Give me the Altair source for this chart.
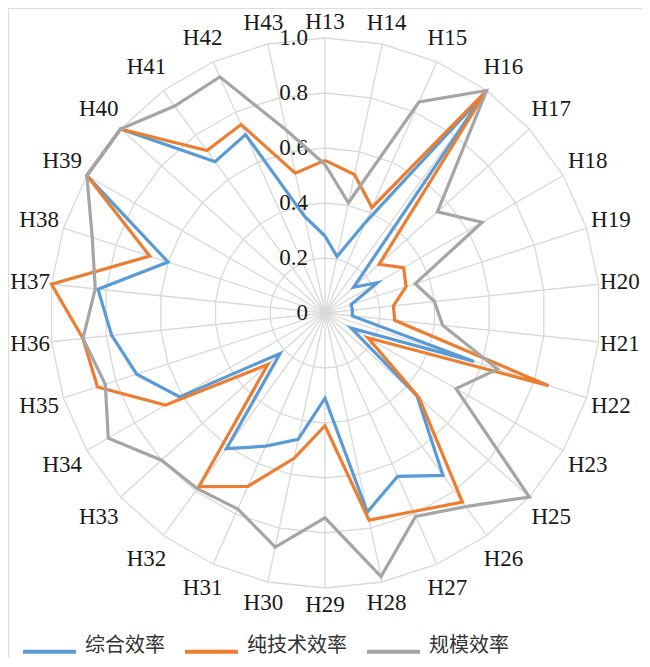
import altair as alt
import pandas as pd

categories = ["H13", "H14", "H15", "H16", "H17", "H18", "H19", "H20", "H21", "H22",
              "H23", "H25", "H26", "H27", "H28", "H29", "H30", "H31", "H32", "H33",
              "H34", "H35", "H36", "H37", "H38", "H39", "H40", "H41", "H42", "H43"]
overall = [0.28, 0.21, 0.36, 0.98, 0.14, 0.22, 0.10, 0.10, 0.10, 0.57,
           0.11, 0.45, 0.73, 0.65, 0.74, 0.31, 0.47, 0.53, 0.61, 0.22,
           0.61, 0.72, 0.78, 0.83, 0.60, 1.00, 1.00, 0.68, 0.71, 0.36]
pure_tech = [0.555, 0.515, 0.42, 1.00, 0.265, 0.33, 0.31, 0.25, 0.255, 0.855,
             0.18, 0.46, 0.85, 0.79, 0.77, 0.41, 0.54, 0.69, 0.78, 0.28,
             0.67, 0.87, 0.885, 1.00, 0.67, 1.00, 1.00, 0.73, 0.75, 0.52]
scale_eff = [0.54, 0.41, 0.84, 1.00, 0.55, 0.66, 0.345, 0.40, 0.43, 0.66,
             0.55, 1.00, 0.87, 0.81, 0.98, 0.745, 0.87, 0.78, 0.79, 0.80,
             0.91, 0.84, 0.885, 0.84, 0.89, 1.00, 1.00, 0.93, 0.94, 0.68]
series_names = ["综合效率", "纯技术效率", "规模效率"]
series_colors = ["#5B9BD5", "#ED7D31", "#A5A5A5"]
grid_levels = [0.2, 0.4, 0.6, 0.8, 1.0]
tick_values = [0, 0.2, 0.4, 0.6, 0.8, 1.0]
tick_labels = ["0", "0.2", "0.4", "0.6", "0.8", "1.0"]

N = len(categories)
W, H = 634, 650
CX, CY, R = 317, 305, 275

line_rows = []
for name, vals in zip(series_names, [overall, pure_tech, scale_eff]):
    for k in range(N + 1):
        line_rows.append({"series": name, "idx": k, "v": vals[k % N]})
df_lines = pd.DataFrame(line_rows)

ring_rows = [{"level": lv, "idx": k} for lv in grid_levels for k in range(N + 1)]
df_rings = pd.DataFrame(ring_rows)
df_spokes = pd.DataFrame({"idx": list(range(N))})
df_cats = pd.DataFrame({"idx": list(range(N)), "label": categories})
df_ticks = pd.DataFrame({"value": tick_values, "text": tick_labels})

xs = alt.Scale(domain=[-CX / R, (W - CX) / R], nice=False, zero=False)
ys = alt.Scale(domain=[-(H - CY) / R, CY / R], nice=False, zero=False)
ANG = f"datum.idx * 2 * PI / {N}"
grid_color = "#D9D9D9"

rings = alt.Chart(df_rings).transform_calculate(
    ang=ANG
).transform_calculate(
    px="datum.level * sin(datum.ang)", py="datum.level * cos(datum.ang)"
).mark_line(color=grid_color, strokeWidth=1.3).encode(
    x=alt.X("px:Q", scale=xs, axis=None),
    y=alt.Y("py:Q", scale=ys, axis=None),
    detail="level:N",
    order="idx:Q",
)

spokes = alt.Chart(df_spokes).transform_calculate(
    ang=ANG
).transform_calculate(
    ex="sin(datum.ang)", ey="cos(datum.ang)", z="0"
).mark_rule(color=grid_color, strokeWidth=1.3).encode(
    x=alt.X("z:Q", scale=xs, axis=None),
    y=alt.Y("z:Q", scale=ys, axis=None),
    x2="ex:Q",
    y2="ey:Q",
)

ticks = alt.Chart(df_ticks).transform_calculate(z="0").mark_text(
    align="right", baseline="middle", dx=-17, font="Liberation Serif",
    fontSize=23, color="#1a1a1a"
).encode(
    x=alt.X("z:Q", scale=xs, axis=None),
    y=alt.Y("value:Q", scale=ys, axis=None),
    text="text:N",
)

cats = alt.Chart(df_cats).transform_calculate(
    ang=ANG
).transform_calculate(
    r="1.06 + 0.01 * abs(sin(datum.ang)) + 0.04 * abs(sin(2 * datum.ang))"
).transform_calculate(
    lx="datum.r * sin(datum.ang)", ly="datum.r * cos(datum.ang)"
).mark_text(
    align="center", baseline="middle", font="Liberation Serif",
    fontSize=23, color="#1a1a1a"
).encode(
    x=alt.X("lx:Q", scale=xs, axis=None),
    y=alt.Y("ly:Q", scale=ys, axis=None),
    text="label:N",
)

lines = alt.Chart(df_lines).transform_calculate(
    ang=ANG
).transform_calculate(
    px="datum.v * sin(datum.ang)", py="datum.v * cos(datum.ang)"
).mark_line(strokeWidth=3.2).encode(
    x=alt.X("px:Q", scale=xs, axis=None),
    y=alt.Y("py:Q", scale=ys, axis=None),
    color=alt.Color(
        "series:N",
        scale=alt.Scale(domain=series_names, range=series_colors),
        sort=series_names,
        legend=alt.Legend(
            title=None, orient="none", legendX=13, legendY=615,
            direction="horizontal", symbolType="stroke", symbolSize=2809,
            symbolStrokeWidth=4, labelFont="Noto Sans CJK SC", labelFontSize=20,
            labelOffset=7, columnPadding=12, labelBaseline="alphabetic",
            labelColor="#333333", padding=0,
        ),
    ),
    order="idx:Q",
)

chart = alt.layer(rings, spokes, ticks, cats, lines).properties(
    width=W, height=H,
    autosize=alt.AutoSizeParams(type="none"),
    padding=0,
).configure_view(strokeWidth=0).configure(background="white")

chart.save("out.html", embed_options={"renderer": "svg", "actions": False})
